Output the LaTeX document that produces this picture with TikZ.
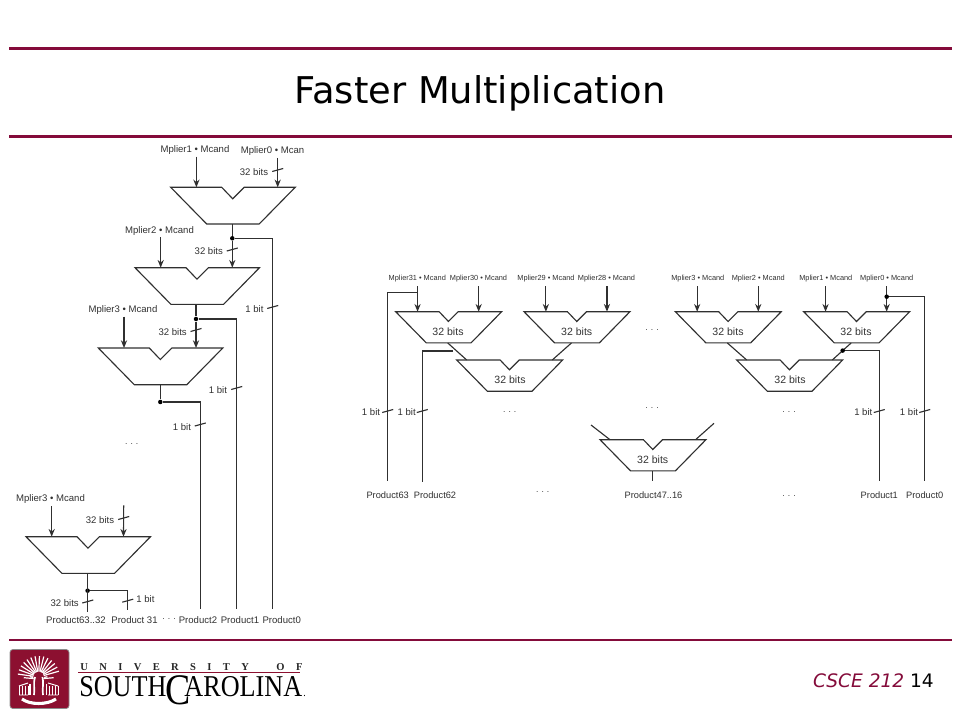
\documentclass[tikz,border=0pt]{standalone}
\usepackage{fontspec}
\setmainfont{Liberation Sans}
\newfontfamily\slidefont{DejaVu Sans}
\newfontfamily\logofont{Liberation Serif}
\usetikzlibrary{arrows.meta, positioning}

\definecolor{garnet}{HTML}{840B3A}
\definecolor{wirecol}{HTML}{303030}
\definecolor{logored}{HTML}{8C1030}

\tikzset{
  wire/.style={draw=wirecol, line width=0.8pt},
  rule/.style={draw=garnet, line width=2.1pt},
  lab/.style={text=wirecol, inner sep=0pt, yshift=-.5pt, font=\fontsize{6.8}{8}\selectfont},
  inlab/.style={lab, minimum height=9.2pt},
  outlab/.style={lab},
  smalllab/.style={text=wirecol, inner sep=0pt, yshift=-.8pt, minimum height=10.1pt, font=\fontsize{5.25}{6}\selectfont},
  routlab/.style={lab, font=\fontsize{6.6}{8}\selectfont, minimum height=19.1pt},
  bitslab/.style={text=black!80, inner sep=0pt, yshift=-.8pt, font=\fontsize{7.5}{9}\selectfont},
  dots/.style={text=wirecol, inner sep=0pt, font=\fontsize{6}{7}\selectfont},
  dot/.style={circle, fill=black, inner sep=0pt, minimum size=3.2pt},
  adder/.pic={
    \draw[wire, line join=miter] (0,0) -- (51,0) -- (62,11.5) -- (73.5,0) -- (124.5,0) -- (88.5,36.7) -- (36,36.7) -- cycle;
    \coordinate (-a) at (25.7,0);
    \coordinate (-b) at (97.5,0);
    \coordinate (-c) at (107,0);
    \coordinate (-o) at (61.6,36.7);
    \coordinate (-ol) at (61.1,36.7);
    \coordinate (-or) at (55.8,36.7);
    \coordinate (-p) at (11.75,0);
    \coordinate (-q) at (112.3,0);
  },
  tick/.pic={\draw[wire] (-5.5,1.5) -- (5.5,-1.5);}
}

\begin{document}
\begin{tikzpicture}[x=0.025cm, y=-0.025cm, >={Stealth[length=5.5pt, width=4.4pt]}]
  \useasboundingbox (0,0) rectangle (960,720);

  % slide frame
  \coordinate (r1a) at (9,48.3);
  \coordinate (r1b) at (952,48.3);
  \coordinate (r2a) at (9,136.3);
  \coordinate (r2b) at (952,136.3);
  \coordinate (r3a) at (9,640);
  \coordinate (r3b) at (952,640);
  \draw[rule] (r1a) -- (r1b);
  \draw[rule] (r2a) -- (r2b);
  \draw[rule] (r3a) -- (r3b);
  \node[anchor=base, inner sep=0pt, font=\slidefont\fontsize{26.2}{30}\selectfont] (title) at (480,103.5) {Faster Multiplication};
  \node[anchor=east, inner sep=0pt, font=\slidefont\fontsize{13.2}{16}\selectfont] (foot) at (934,681) {\textcolor{garnet}{\itshape CSCE 212} 14};

  % left diagram
  \pic (a1) at (170.7,187.3) {adder};
  \pic (a2) at (135,267.7) {adder};
  \pic (a3) at (98.3,348) {adder};
  \pic (a4) at (26,536.7) {adder};

  \node[inlab] (m1) at (195,149.3) {Mplier1 • Mcand};
  \node[inlab] (m0) at (272.5,150.5) {Mplier0 • Mcan};
  \node[inlab] (m2) at (159.5,230) {Mplier2 • Mcand};
  \node[inlab] (m3) at (123,309.3) {Mplier3 • Mcand};
  \node[inlab] (m4) at (50.5,498.7) {Mplier3 • Mcand};

  \node[lab] (b1) at (254,171) {32 bits};
  \node[lab] (b2) at (208.8,250.7) {32 bits};
  \node[lab] (b3) at (172.7,331) {32 bits};
  \node[lab] (b4) at (100,519) {32 bits};
  \node[lab] (b5) at (64.7,602.3) {32 bits};
  \node[lab] (o1) at (254.5,308.3) {1 bit};
  \node[lab] (o2) at (218,389) {1 bit};
  \node[lab] (o3) at (182,426) {1 bit};
  \node[lab] (o4) at (145.5,598.7) {1 bit};
  \node[dots] (ldots) at (131.7,444) {. . .};
  \node[dots] (pdots) at (169,619) {. . .};

  \node[outlab] (p6332) at (76,619) {Product63..32};
  \node[outlab] (p31) at (134.5,619) {Product 31};
  \node[outlab] (p2) at (198,619) {Product2};
  \node[outlab] (p1) at (240,619) {Product1};
  \node[outlab] (p0) at (281.7,619) {Product0};

  \node[dot] (d1) at (232.3,238.3) {};
  \node[dot] (d2) at (196,319) {};
  \node[dot] (d3) at (160.3,402) {};
  \node[dot] (d4) at (87.6,590.7) {};

  \coordinate (end0) at (272.7,609.3);
  \coordinate (end1) at (236.7,609.3);
  \coordinate (end2) at (200.3,609.3);
  \coordinate (end31) at (127.7,610);
  \coordinate (end63) at (87.6,612);

  \draw[wire, ->] (m1.south -| a1-a) -- (a1-a);
  \draw[wire, ->] (m0.south -| a1-c) -- (a1-c);
  \draw[wire, ->] (m2.south -| a2-a) -- (a2-a);
  \draw[wire, ->] (m3.south -| a3-a) -- (a3-a);
  \draw[wire, ->] (m4.south -| a4-a) -- (a4-a);
  \coordinate (in4) at (123.7,505.3);
  \draw[wire, ->] (in4) -- (a4-b);

  \draw[wire] (d1 |- a1-o) -- (d1);
  \draw[wire, ->] (d1) -- (d1 |- a2-b);
  \draw[wire] (d1) -| (end0);
  \draw[wire] (d2 |- a2-o) -- (d2);
  \draw[wire, ->] (d2) -- (d2 |- a3-b);
  \draw[wire] (d2) -| (end1);
  \draw[wire] (d3 |- a3-o) -- (d3);
  \draw[wire] (d3) -| (end2);
  \draw[wire] (d4 |- a4-o) -- (end63);
  \draw[wire] (d4) -| (end31);

  \pic at (277.7,170) {tick};
  \pic at (232.3,249.5) {tick};
  \pic at (196,330) {tick};
  \pic at (123.7,518) {tick};
  \pic at (87.8,601.5) {tick};
  \pic at (272.7,307) {tick};
  \pic at (236.7,388) {tick};
  \pic at (200.3,424.5) {tick};
  \pic at (127.7,600.7) {tick};

  % right diagram
  \pic[scale=.851] (ra) at (395.7,311.7) {adder};
  \pic[scale=.851] (rb) at (524,311.7) {adder};
  \pic[scale=.851] (rc) at (675.3,311.7) {adder};
  \pic[scale=.851] (rd) at (803.7,311.7) {adder};
  \pic[scale=.851] (re) at (456.7,360) {adder};
  \pic[scale=.851] (rf) at (736.7,360) {adder};
  \pic[scale=.851] (rg) at (600,439.7) {adder};

  \node[bitslab] (ta) at (448,330.7) {32 bits};
  \node[bitslab] (tb) at (576.7,330.7) {32 bits};
  \node[bitslab] (tc) at (728,330.7) {32 bits};
  \node[bitslab] (td) at (856,330.7) {32 bits};
  \node[bitslab] (te) at (510,379) {32 bits};
  \node[bitslab] (tf) at (790,379) {32 bits};
  \node[bitslab] (tg) at (652.7,459) {32 bits};

  \node[smalllab] (n31) at (417.3,277.5) {Mplier31 • Mcand};
  \node[smalllab] (n30) at (478.5,277.5) {Mplier30 • Mcand};
  \node[smalllab] (n29) at (546,277.5) {Mplier29 • Mcand};
  \node[smalllab] (n28) at (606.5,277.5) {Mplier28 • Mcand};
  \node[smalllab] (n3) at (697.8,277.5) {Mplier3 • Mcand};
  \node[smalllab] (n2) at (758.3,277.5) {Mplier2 • Mcand};
  \node[smalllab] (n1) at (825.8,277.5) {Mplier1 • Mcand};
  \node[smalllab] (n0) at (886.7,277.5) {Mplier0 • Mcand};

  \node[routlab] (q63) at (387.7,494.5) {Product63};
  \node[routlab] (q62) at (435,494.5) {Product62};
  \node[routlab] (q47) at (653.5,494.5) {Product47..16};
  \node[routlab] (q1) at (879.3,494.5) {Product1};
  \node[routlab] (q0) at (924.7,494.5) {Product0};
  \coordinate (end62) at (422.3,482);

  \node[lab] (e1) at (371,411.7) {1 bit};
  \node[lab] (e2) at (406.7,411.7) {1 bit};
  \node[lab] (e3) at (863.3,411.7) {1 bit};
  \node[lab] (e4) at (909,411.7) {1 bit};

  \node[dots] (u1) at (652,330) {. . .};
  \node[dots] (u2) at (509.7,412.3) {. . .};
  \node[dots] (u3) at (652,408) {. . .};
  \node[dots] (u4) at (789,412.3) {. . .};
  \node[dots] (u5) at (542.7,492) {. . .};
  \node[dots] (u6) at (789,495.7) {. . .};

  \draw[wire, ->] (n31.south -| ra-a) -- (ra-a);
  \draw[wire, ->] (n30.south -| ra-b) -- (ra-b);
  \draw[wire, ->] (n29.south -| rb-a) -- (rb-a);
  \draw[wire, ->] (n28.south -| rb-b) -- (rb-b);
  \draw[wire, ->] (n3.south -| rc-a) -- (rc-a);
  \draw[wire, ->] (n2.south -| rc-b) -- (rc-b);
  \draw[wire, ->] (n1.south -| rd-a) -- (rd-a);
  \draw[wire, ->] (n0.south -| rd-b) -- (rd-b);

  \draw[wire] (ra-ol) -- (re-p);
  \draw[wire] (rb-or) -- (re-q);
  \draw[wire] (rc-ol) -- (rf-p);
  \draw[wire] (rd-or) -- coordinate[pos=.45] (tapf) (rf-q);
  \coordinate (gl) at (591,425);
  \coordinate (gr) at (714,423.3);
  \draw[wire] (gl) -- (rg-p);
  \draw[wire] (gr) -- (rg-q);
  \draw[wire] (rg-o) -- (q47.north -| rg-o);

  \node[dot] (d5) at (886.7,296.7) {};
  \node[dot] (d6) at (tapf) {};
  \coordinate (s63) at (417.3,292.3);
  \coordinate (s62) at (453,351);
  \draw[wire] (s63) -| (q63.north);
  \draw[wire] (s62) -| (end62);
  \draw[wire] (d5) -| (q0.north);
  \draw[wire] (d6) -| (q1.north);

  \pic at (387.7,411) {tick};
  \pic at (422.3,411) {tick};
  \pic at (879.3,411) {tick};
  \pic at (924.7,411) {tick};

  % logo
  \fill[logored, draw=black!45, line width=.5pt, rounded corners=2pt] (10,649.5) rectangle (69,708.5);
  \foreach \a in {-172,-160,...,-8} {
    \draw[white, line width=.85pt] (38.7,677) -- ++(\a:21);
  }
  \foreach \a/\r in {-175/15,-5/15,-165/9,-15/9} {
    \draw[white, line width=.85pt] (38.7,679) -- ++(\a:\r);
  }
  \fill[logored] (38.7,677) circle (5.5);
  \draw[white, line width=1.2pt] (35,677) .. controls (33,683) and (35,689) .. (34,695);
  \draw[white, line width=1.2pt] (42.5,677) .. controls (44,683) and (42,689) .. (43,695);
  \draw[white, line width=.8pt] (30,684) -- (30,695) (46.5,684) -- (46.5,695);
  \draw[white, line width=.7pt] (19,686) -- (28,683) (19,695) -- (28,695) (48,683) -- (58,686) (48,695) -- (58,695);
  \foreach \x in {19,22,25,28,49,52,55,58} {
    \draw[white, line width=.6pt] (\x,686) -- (\x,695);
  }
  \draw[white, line width=2.2pt] (22,699) .. controls (30,705) and (47,705) .. (56,699);

  \node[anchor=base west, inner sep=0pt, text=black!85, font=\logofont\fontsize{7.5}{9}\selectfont\bfseries] (uni) at (80,670)
    {U\hspace{8.1pt}N\hspace{8.1pt}I\hspace{8.1pt}V\hspace{8.1pt}E\hspace{8.1pt}R\hspace{8.1pt}S\hspace{8.1pt}I\hspace{8.1pt}T\hspace{8.1pt}Y\hspace{19.5pt}O\hspace{8.1pt}F};
  \coordinate (la) at (78,672.5);
  \coordinate (lb) at (300,672.5);
  \draw[logored, line width=.5pt] (la) -- (lb);
  \node[anchor=base west, inner sep=0pt, font=\logofont\fontsize{21.5}{24}\selectfont] (usc) at (79,696.7)
    {\scalebox{.866}[1]{SOUTH\kern-1pt\raisebox{-5.7pt}{\fontsize{31}{31}\selectfont C}\kern-5pt AROLINA\kern1pt{\fontsize{8}{8}\selectfont.}}};
\end{tikzpicture}
\end{document}
